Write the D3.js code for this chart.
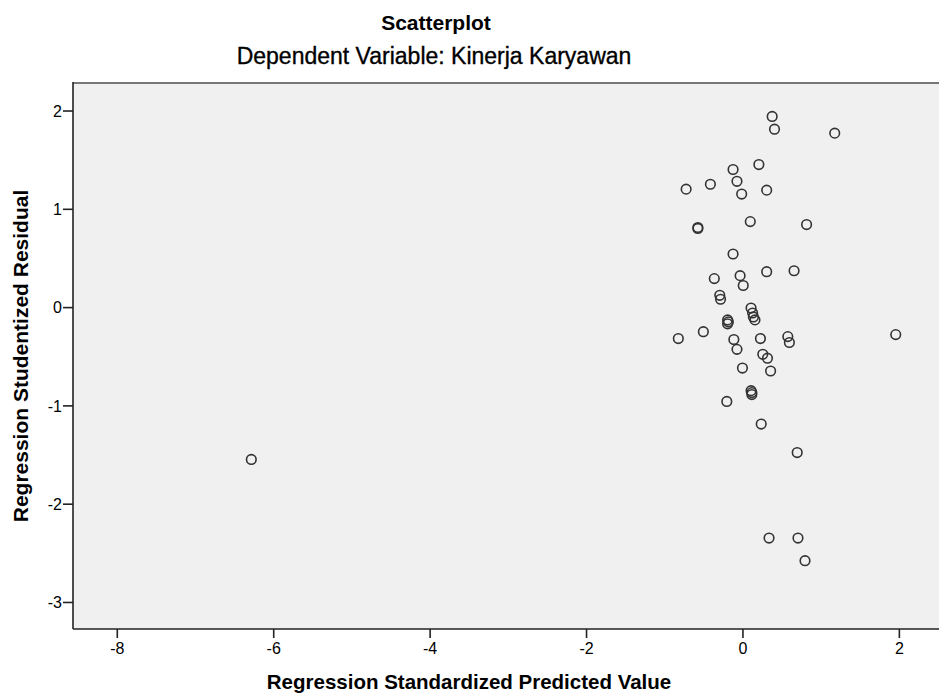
<!DOCTYPE html>
<html>
<head>
<meta charset="utf-8">
<script src="https://cdn.jsdelivr.net/npm/d3@7"></script>
<style>
  html, body { margin: 0; padding: 0; background: #fff; }
  svg { display: block; }
  text { font-family: "Liberation Sans", Arial, sans-serif; fill: #000; }
</style>
</head>
<body>
<svg id="chart" width="939" height="696"></svg>
<script>
const title = "Scatterplot";
const subtitle = "Dependent Variable: Kinerja Karyawan";
const xLabel = "Regression Standardized Predicted Value";
const yLabel = "Regression Studentized Residual";
const xTicks = [-8, -6, -4, -2, 0, 2];
const yTicks = [-3, -2, -1, 0, 1, 2];

// Regression Standardized Predicted Value
const predicted = [
  0.38, 0.41, 1.18, 0.21, -0.12, -0.07, -0.72, -0.41, -0.01, 0.31,
  -0.57, -0.57, 0.10, 0.82, -0.12,
  -0.36, -0.03, 0.31, 0.66, 0.01, -0.29, -0.28,
  -0.19, -0.18, -0.19,
  0.11, 0.13, 0.14, 0.16,
  -0.50, -0.82, -0.11, 0.23, 0.58, 0.60, 1.96,
  -0.07, 0.26, 0.32, 0.00, 0.36,
  0.11, 0.12, 0.12, -0.20, 0.24, 0.70,
  0.34, 0.71, 0.80, -6.28
];
// Regression Studentized Residual
const residual = [
  1.94, 1.81, 1.77, 1.45, 1.40, 1.28, 1.20, 1.25, 1.15, 1.19,
  0.81, 0.80, 0.87, 0.84, 0.54,
  0.29, 0.32, 0.36, 0.37, 0.22, 0.12, 0.08,
  -0.13, -0.15, -0.17,
  -0.01, -0.06, -0.10, -0.13,
  -0.25, -0.32, -0.33, -0.32, -0.30, -0.36, -0.28,
  -0.43, -0.48, -0.52, -0.62, -0.65,
  -0.85, -0.87, -0.89, -0.96, -1.19, -1.48,
  -2.35, -2.35, -2.58, -1.55
];

const svg = d3.select("#chart");
const pL = 73, pT = 83, pR = 945, pB = 629;

const x = d3.scaleLinear().domain([-8.56, 2.59]).range([pL, pR]);
const y = d3.scaleLinear().domain([-3.275, 2.28]).range([pB, pT]);

// plot background
svg.append("rect")
  .attr("x", pL).attr("y", pT)
  .attr("width", pR - pL).attr("height", pB - pT)
  .attr("fill", "#f0f0f0");

// top border
svg.append("line")
  .attr("x1", pL).attr("x2", pR).attr("y1", pT).attr("y2", pT)
  .attr("stroke", "#777").attr("stroke-width", 2);

// axes (hyphen-minus labels, as in the reference)
const fmt = d => String(d);
const xAxis = d3.axisBottom(x).tickValues(xTicks).tickSize(9).tickPadding(4).tickFormat(fmt);
const yAxis = d3.axisLeft(y).tickValues(yTicks).tickSize(10).tickPadding(1).tickFormat(fmt);

const gx = svg.append("g").attr("transform", `translate(0,${pB})`).call(xAxis);
const gy = svg.append("g").attr("transform", `translate(${pL},0)`).call(yAxis);

[gx, gy].forEach(g => {
  g.select(".domain").remove();
  g.selectAll(".tick line").attr("stroke", "#222").attr("stroke-width", 1.6);
  g.selectAll(".tick text")
    .style("font-family", '"Liberation Sans", Arial, sans-serif')
    .style("font-size", "16px").attr("fill", "#111");
});
gx.selectAll(".tick text").attr("dy", "0.75em");
gy.selectAll(".tick text").attr("dy", "0.36em");

// axis lines
svg.append("line")
  .attr("x1", pL).attr("x2", pL).attr("y1", pT - 1).attr("y2", pB)
  .attr("stroke", "#222").attr("stroke-width", 1.6);
svg.append("line")
  .attr("x1", pL).attr("x2", pR).attr("y1", pB).attr("y2", pB)
  .attr("stroke", "#222").attr("stroke-width", 1.6);

// points
const pts = predicted.map((p, i) => ({ p, r: residual[i] }));
svg.append("g").selectAll("circle").data(pts).join("circle")
  .attr("cx", d => x(d.p)).attr("cy", d => y(d.r))
  .attr("r", 4.8)
  .attr("fill", "none").attr("stroke", "#333").attr("stroke-width", 1.6);

// titles
svg.append("text").attr("x", 436).attr("y", 30)
  .attr("text-anchor", "middle")
  .style("font-size", "21px").style("font-weight", "bold")
  .text(title);
svg.append("text").attr("x", 434).attr("y", 64)
  .attr("text-anchor", "middle")
  .style("font-size", "23px")
  .attr("stroke", "#000").attr("stroke-width", 0.35)
  .text(subtitle);

// axis labels
svg.append("text").attr("x", 469).attr("y", 689)
  .attr("text-anchor", "middle")
  .style("font-size", "20.5px").style("font-weight", "bold")
  .text(xLabel);
svg.append("text")
  .attr("transform", `translate(28,${(pT + pB) / 2}) rotate(-90)`)
  .attr("text-anchor", "middle")
  .style("font-size", "21px").style("font-weight", "bold")
  .text(yLabel);
</script>
</body>
</html>
